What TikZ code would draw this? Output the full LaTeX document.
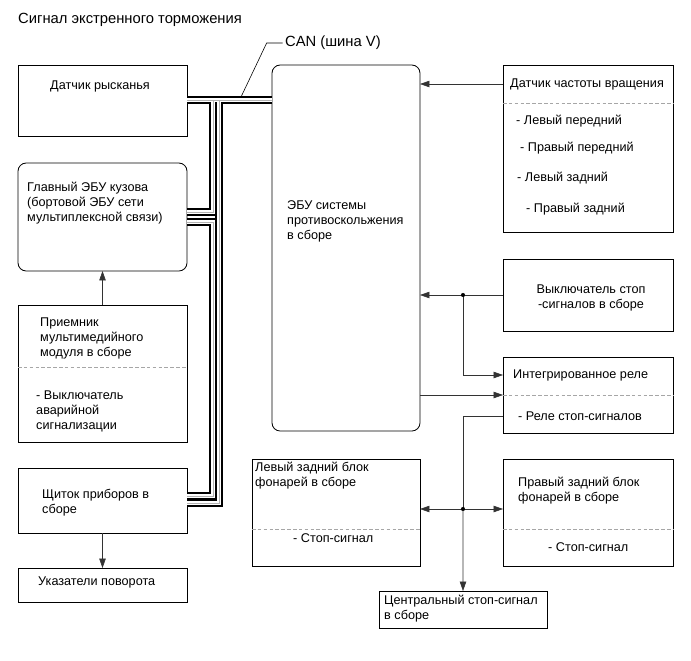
\documentclass[tikz,border=0pt]{standalone}
\usepackage{fontspec}
\setmainfont{Liberation Sans}
\usetikzlibrary{arrows.meta}

\begin{document}
\begin{tikzpicture}[
    x=0.03cm, y=-0.03cm,
    font=\fontsize{10.8}{12.8}\selectfont,
    box/.style={draw, line width=0.7pt, anchor=north west,
                inner sep=0pt, outer sep=0pt},
    ecubox/.style={box, rounded corners=7pt},
    txt/.style={anchor=west, inner sep=0pt, align=left},
    bigtxt/.style={txt, font=\fontsize{12.6}{14}\selectfont},
    divider/.style={gray!70, line width=0.6pt, dash pattern=on 3pt off 2pt},
    flow/.style={-{Triangle[length=8pt, width=5.5pt]}, line width=0.5pt, black!80},
    wire/.style={line width=0.5pt, black!80},
    busout/.style={line width=6pt, black},
    busin/.style={line width=3.4pt, white},
    buscore/.style={line width=0.4pt, gray!60},
    dot/.style={circle, fill=black, inner sep=0pt, minimum size=3.5pt},
]
    \useasboundingbox (0,0) rectangle (691,660);

    \node[box, minimum width=5.07cm, minimum height=2.13cm] (yaw) at (18,65) {};
    \node[box, rounded corners=7pt, minimum width=5.07cm, minimum height=3.24cm] (body) at (18,163) {};
    \node[box, minimum width=5.07cm, minimum height=4.11cm] (radio) at (18,305) {};
    \node[box, minimum width=5.07cm, minimum height=1.95cm] (cluster) at (18,468) {};
    \node[box, minimum width=5.07cm, minimum height=1.02cm] (turn) at (18,568) {};
    \node[ecubox, minimum width=4.44cm, minimum height=10.98cm] (ecu) at (272,65) {};
    \node[box, minimum width=5.1cm, minimum height=5.01cm] (speed) at (503,65) {};
    \node[box, minimum width=5.1cm, minimum height=2.16cm] (stopsw) at (503,259) {};
    \node[box, minimum width=5.1cm, minimum height=2.28cm] (relay) at (503,357) {};
    \node[box, minimum width=5.04cm, minimum height=3.21cm] (lrear) at (252,459) {};
    \node[box, minimum width=5.1cm, minimum height=3.21cm] (rrear) at (503,459) {};
    \node[box, minimum width=5.04cm, minimum height=1.11cm] (center) at (379,591) {};

    \node[bigtxt] (title) at (18,20) {Сигнал экстренного торможения};
    \node[bigtxt] (can) at (285,43) {CAN (шина V)};
    \node[txt] (yawtxt) at (50,86) {Датчик рысканья};
    \node[txt] (bodytxt) at (27,203) {Главный ЭБУ кузова\\(бортовой ЭБУ сети\\мультиплексной связи)};
    \node[txt] (radiotxt) at (40,338) {Приемник\\мультимедийного\\модуля в сборе};
    \node[txt] (hazard) at (36,411) {- Выключатель\\аварийной\\сигнализации};
    \node[txt] (clustertxt) at (42,503) {Щиток приборов в\\сборе};
    \node[txt] (turntxt) at (38,582) {Указатели поворота};
    \node[txt] (ecutxt) at (287,221) {ЭБУ системы\\противоскольжения\\в сборе};
    \node[txt] (spdtitle) at (510,84) {Датчик частоты вращения};
    \node[txt] (spdfl) at (516,121) {- Левый передний};
    \node[txt] (spdfr) at (520,148) {- Правый передний};
    \node[txt] (spdrl) at (517,178) {- Левый задний};
    \node[txt] (spdrr) at (526,209) {- Правый задний};
    \node[align=center, inner sep=0pt] (stopswtxt) at (591,298) {Выключатель стоп\\-сигналов в сборе};
    \node[txt] (rltitle) at (513,375) {Интегрированное реле};
    \node[txt] (rlitem) at (518,416) {- Реле стоп-сигналов};
    \node[txt] (lreartxt) at (255,476) {Левый задний блок\\фонарей в сборе};
    \node[txt] (lrearitem) at (293,538) {- Стоп-сигнал};
    \node[txt] (rreartxt) at (518,491) {Правый задний блок\\фонарей в сборе};
    \node[txt] (rrearitem) at (548,547) {- Стоп-сигнал};
    \node[txt] (centertxt) at (384,609) {Центральный стоп-сигнал\\в сборе};

    \draw[divider] (radio.west |- 0,367) -- (radio.east |- 0,367);
    \draw[divider] (speed.west |- 0,103) -- (speed.east |- 0,103);
    \draw[divider] (relay.west |- 0,395) -- (relay.east |- 0,395);
    \draw[divider] (lrear.west |- 0,529) -- (lrear.east |- 0,529);
    \draw[divider] (rrear.west |- 0,529) -- (rrear.east |- 0,529);

    \coordinate (bt) at (0,100);
    \def\buslines{(ecu.west |- bt) -- (yaw.east |- bt)
        (219,100) -- (219,503) -- (cluster.east |- 0,503)
        (213,100) -- (213,212) -- (body.east |- 0,212)
        (body.east |- 0,222) -- (213,222) -- (213,496) -- (cluster.east |- 0,496)}
    \draw[busout] \buslines;
    \draw[busin] \buslines;
    \draw[buscore] \buslines;

    \coordinate (cantap) at (241,97);
    \draw[wire, black] ([xshift=-2pt]can.west) -- ++(-16,0) -- (cantap);

    \draw[flow] (radio.north) -- (body.south);
    \draw[flow] (cluster.south) -- (turn.north);
    \draw[flow] (speed.west |- spdtitle) -- (ecu.east |- spdtitle);
    \coordinate (j1) at (463,295);
    \coordinate (j2) at (463,509);
    \draw[flow] (stopsw.west) -- (ecu.east |- stopsw.west);
    \draw[flow] (j1) |- (relay.west |- rltitle);
    \draw[flow] (ecu.east |- 0,395) -- (relay.west |- 0,395);
    \draw[wire] (relay.west |- rlitem) -| (j2);
    \draw[flow] (j2) -- (lrear.east |- j2);
    \draw[flow] (j2) -- (rrear.west |- j2);
    \draw[flow] (j2) -- (center.north);
    \node[dot] (j1dot) at (j1) {};
    \node[dot] (j2dot) at (j2) {};
\end{tikzpicture}
\end{document}
